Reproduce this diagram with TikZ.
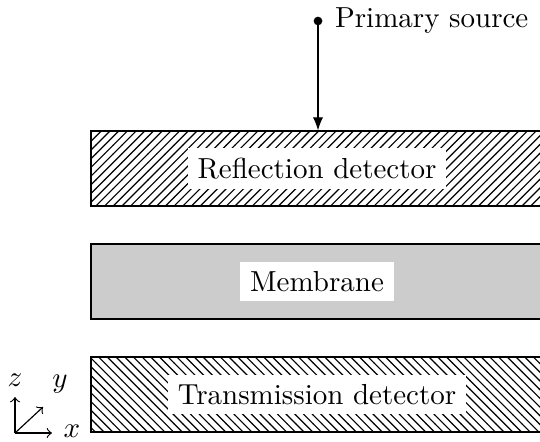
\documentclass[tikz,border=0pt]{standalone}
\usetikzlibrary{patterns,arrows.meta}
\begin{document}
\begin{tikzpicture}[x=0.345pt,y=-0.345pt,
  slab/.style={draw, minimum width={480*0.345pt}, minimum height={75*0.345pt}, inner sep=0pt},
  lab/.style={fill=white, inner sep=3.33pt},
  axis/.style={->, >=to}]
\useasboundingbox (0,0) rectangle (540,441);
\begin{scope}
\clip (0,0) rectangle (540,441);
% slabs
\node[slab, pattern=north east lines] (refl) at (331,168.5) {};
\node[lab] (refllab) at (317,168.5) {Reflection detector};
\node[slab, fill=black!20] (memb) at (331,281.5) {};
\node[lab] (memblab) at (317,281.5) {Membrane};
\node[slab, pattern=north west lines] (trans) at (331,394.5) {};
\node[lab] (translab) at (317,394.5) {Transmission detector};
\end{scope}
% source
\node[circle, fill, inner sep=0pt, minimum size=3pt] (src) at (318,21) {};
\node[right, inner sep=4pt] (srclab) at (src.east) {Primary source};
\draw[-{Latex[length=4.5pt,width=3.5pt]}] (src.center) -- (src |- refl.north);
% axes
\coordinate (o) at (15,433);
\coordinate (ze) at (15,397);
\coordinate (xe) at (52,433);
\coordinate (ye) at (43,407);
\draw[axis] (o) -- (ze);
\draw[axis] (o) -- (xe);
\draw[axis] (o) -- (ye);
\node[inner sep=0pt] (zl) at (15,380) {$z$};
\node[inner sep=0pt] (yl) at (60,384) {$y$};
\node[inner sep=0pt] (xl) at (72,431) {$x$};
\end{tikzpicture}
\end{document}
